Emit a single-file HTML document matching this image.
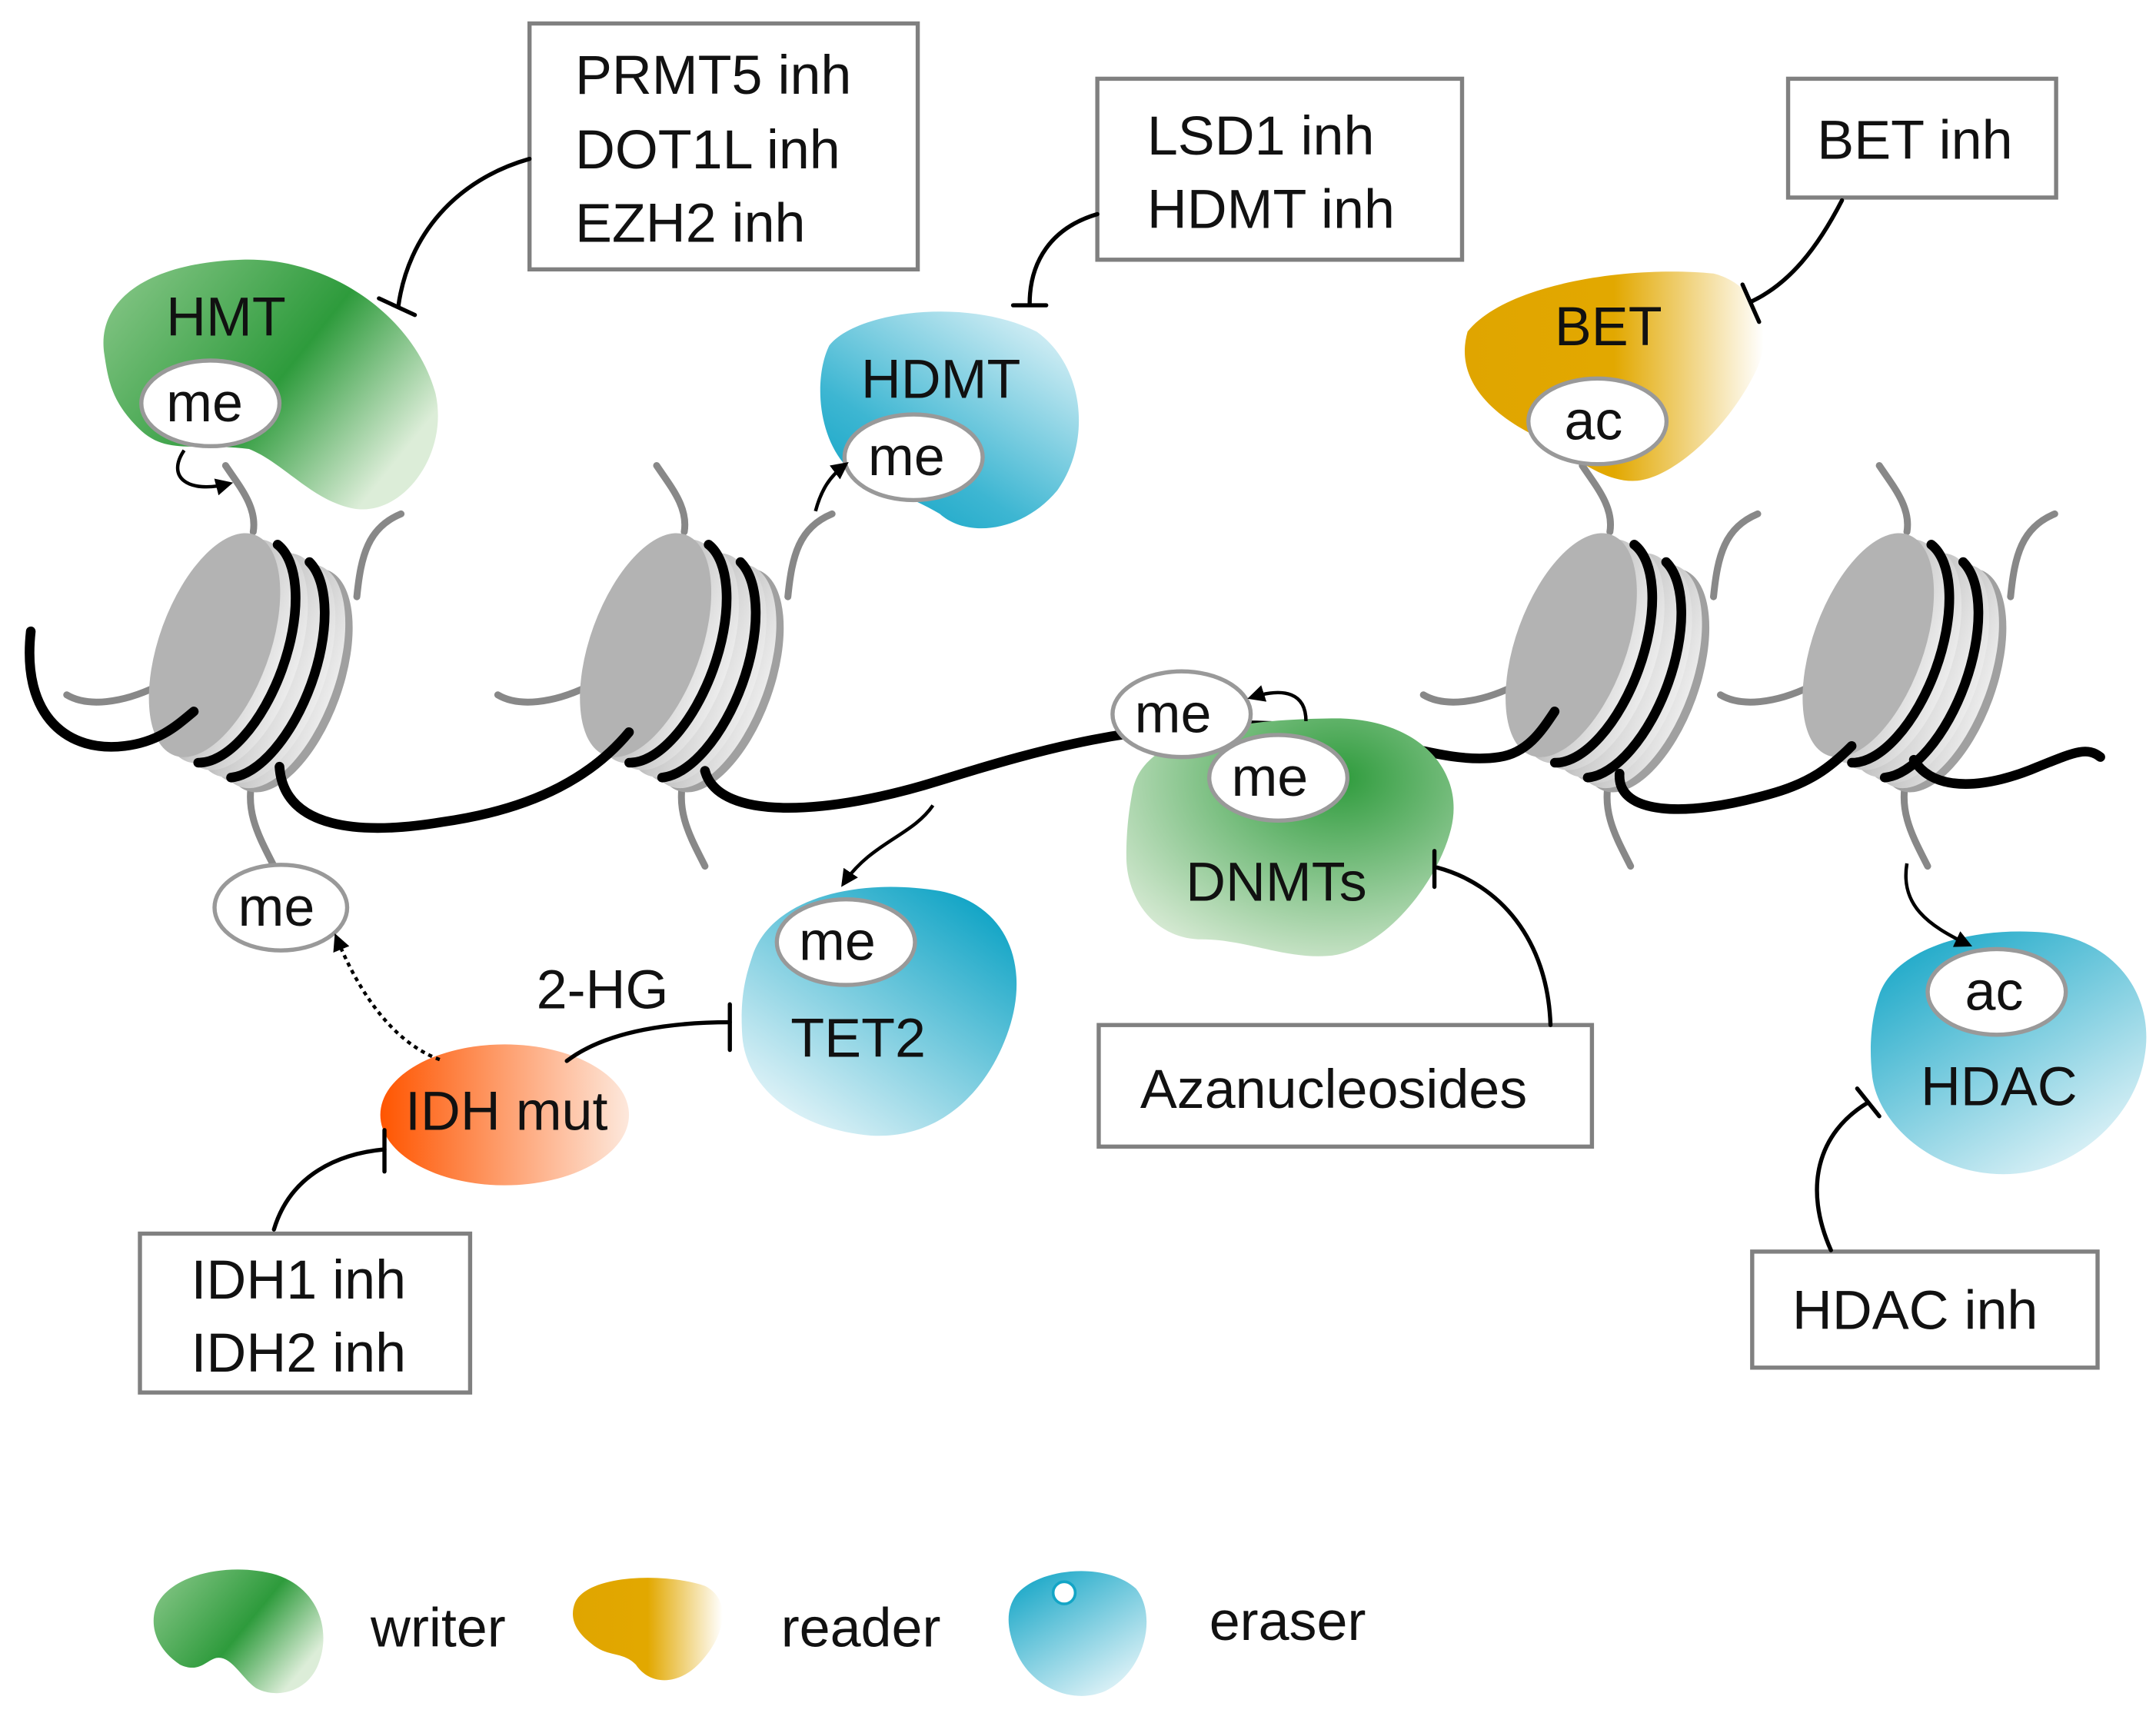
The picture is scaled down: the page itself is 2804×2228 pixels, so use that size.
<!DOCTYPE html>
<html><head><meta charset="utf-8"><style>
html,body{margin:0;padding:0;background:#fff;}
svg{display:block;}
text{font-family:"Liberation Sans",Arial,sans-serif;fill:#111;}
</style></head><body>
<svg width="2804" height="2228" viewBox="0 0 1560 1240" xmlns="http://www.w3.org/2000/svg">
<defs>
<linearGradient id="gw" x1="0" y1="0" x2="1" y2="0.6">
<stop offset="0" stop-color="#8cc98c"/><stop offset="0.6" stop-color="#2e9b3c"/><stop offset="1" stop-color="#dcedd8"/></linearGradient>
<radialGradient id="gw2" cx="0.65" cy="0.25" r="0.9">
<stop offset="0" stop-color="#2e9b3c"/><stop offset="1" stop-color="#e2efde"/></radialGradient>
<linearGradient id="gb" x1="0.2" y1="1" x2="1" y2="0">
<stop offset="0" stop-color="#13a5c6"/><stop offset="0.3" stop-color="#3db6d2"/><stop offset="1" stop-color="#eef8fb"/></linearGradient>
<linearGradient id="gb2" x1="0.9" y1="0.1" x2="0.2" y2="1">
<stop offset="0" stop-color="#13a5c6"/><stop offset="1" stop-color="#e6f5f9"/></linearGradient>
<linearGradient id="gb3" x1="0.1" y1="0" x2="0.8" y2="1">
<stop offset="0" stop-color="#13a5c6"/><stop offset="1" stop-color="#e6f5f9"/></linearGradient>
<linearGradient id="go" x1="0" y1="0" x2="1" y2="0">
<stop offset="0" stop-color="#e0a500"/><stop offset="0.5" stop-color="#e2a800"/><stop offset="1" stop-color="#ffffff"/></linearGradient>
<linearGradient id="gr" x1="0" y1="0" x2="1" y2="0">
<stop offset="0" stop-color="#ff5500"/><stop offset="1" stop-color="#fde8dc"/></linearGradient>
<linearGradient id="grim" x1="0" y1="0" x2="1" y2="0">
<stop offset="0" stop-color="#888"/><stop offset="0.5" stop-color="#c8c8c8"/><stop offset="1" stop-color="#ececec"/></linearGradient>
<marker id="ah" viewBox="0 0 10 10" refX="8" refY="5" markerWidth="5" markerHeight="5" orient="auto"><path d="M0,0 L10,5 L0,10 Z" fill="#000"/></marker>
<g id="nuc">
 <g transform="rotate(20)">
  <ellipse cx="58" cy="6" rx="40" ry="85" fill="#a0a0a0"/>
  <ellipse cx="52" cy="5" rx="40" ry="85" fill="url(#grim)"/>
  <ellipse cx="44" cy="4" rx="40" ry="85" fill="url(#grim)"/>
  <ellipse cx="34" cy="3" rx="40" ry="85" fill="url(#grim)"/>
  <ellipse cx="22" cy="2" rx="40" ry="85" fill="url(#grim)"/>
  <ellipse cx="10" cy="1" rx="40" ry="85" fill="url(#grim)"/>
  <ellipse cx="0" cy="0" rx="40" ry="85" fill="#b3b3b3"/>
  <path d="M18,-84 A40 85 0 0 1 18,84" fill="none" stroke="#000" stroke-width="7" stroke-linecap="round"/>
  <path d="M44,-80 A40 85 0 0 1 44,86" fill="none" stroke="#000" stroke-width="7" stroke-linecap="round"/>
 </g>
</g>
<g id="tails" fill="none" stroke="#888" stroke-width="5" stroke-linecap="round">
 <path d="M25,-82 C28,-100 15,-115 5,-130"/>
 <path d="M100,-35 C103,-65 108,-85 132,-95"/>
 <path d="M-45,30 C-70,42 -95,45 -110,36"/>
 <path d="M25,95 C18,120 30,140 40,160"/>
</g>
</defs>

<use href="#tails" transform="translate(158,467)"/>
<use href="#tails" transform="translate(470,467)"/>
<use href="#tails" transform="translate(1140,467)"/>
<use href="#tails" transform="translate(1355,467)"/>

<use href="#nuc" transform="translate(155,467)"/>
<use href="#nuc" transform="translate(467,467)"/>
<use href="#nuc" transform="translate(1137,467)"/>
<use href="#nuc" transform="translate(1352,467)"/>

<g fill="none" stroke="#000" stroke-width="7" stroke-linecap="round">
<path d="M22,457 C15,520 50,545 90,540 C115,537 128,525 140,515"/>
<path d="M202,555 C205,600 260,605 320,595 C390,585 430,560 455,530"/>
<path d="M510,558 C520,595 600,590 680,565 C760,540 820,525 900,525 C990,525 1040,555 1085,548 C1105,545 1115,530 1125,515"/>
<path d="M1172,560 C1170,590 1220,592 1280,575 C1310,567 1325,555 1340,540"/>
<path d="M1385,550 C1400,575 1440,570 1475,555 C1500,545 1510,540 1520,548"/>
</g>

<path d="M75,255 C70,215 110,190 175,188 C240,186 300,230 315,285 C325,330 290,375 255,368 C225,362 205,335 180,325 C140,320 120,330 100,310 C80,290 78,275 75,255 Z" fill="url(#gw)"/>
<path d="M600,250 C620,225 700,215 750,240 C785,265 790,320 765,355 C740,385 700,390 680,372 C660,360 630,350 610,335 C590,310 590,270 600,250 Z" fill="url(#gb)"/>
<path d="M1062,240 C1090,205 1180,192 1240,198 C1272,206 1285,240 1270,270 C1250,310 1212,345 1185,348 C1160,350 1140,330 1110,315 C1080,300 1052,275 1062,240 Z" fill="url(#go)"/>
<path d="M820,570 C830,530 900,520 970,520 C1030,522 1060,560 1050,600 C1040,640 1000,690 960,692 C930,694 900,680 870,680 C835,680 815,650 815,620 C815,600 817,585 820,570 Z" fill="url(#gw2)"/>
<path d="M545,690 C560,650 620,635 680,645 C730,655 745,700 730,745 C715,790 680,825 630,822 C580,818 540,790 537,750 C535,720 540,705 545,690 Z" fill="url(#gb2)"/>
<path d="M1360,720 C1370,690 1420,670 1480,675 C1530,680 1560,720 1552,765 C1545,810 1500,850 1450,850 C1400,850 1360,815 1355,780 C1352,755 1355,735 1360,720 Z" fill="url(#gb3)"/>
<ellipse cx="365" cy="807" rx="90" ry="51" fill="url(#gr)"/>

<g fill="#fff" stroke="#999" stroke-width="3">
<ellipse cx="152" cy="292" rx="50" ry="31"/>
<ellipse cx="661" cy="331" rx="50" ry="31"/>
<ellipse cx="1156" cy="305" rx="50" ry="31"/>
<ellipse cx="855" cy="517" rx="50" ry="31"/>
<ellipse cx="925" cy="563" rx="50" ry="31"/>
<ellipse cx="612" cy="682" rx="50" ry="31"/>
<ellipse cx="1445" cy="718" rx="50" ry="31"/>
<ellipse cx="203" cy="657" rx="48" ry="31"/>
</g>

<g fill="#fff" stroke="#808080" stroke-width="3">
<rect x="383" y="17" width="281" height="178"/>
<rect x="794" y="57" width="264" height="131"/>
<rect x="1294" y="57" width="194" height="86"/>
<rect x="795" y="742" width="357" height="88"/>
<rect x="101" y="893" width="239" height="115"/>
<rect x="1268" y="906" width="250" height="84"/>
</g>

<g fill="none" stroke="#000" stroke-width="3" stroke-linecap="round">
<path d="M383,115 C330,130 295,170 288,222"/><path d="M274,216 L300,228"/>
<path d="M794,155 C760,165 745,190 745,220"/><path d="M733,221 L757,221"/>
<path d="M1333,145 C1315,180 1295,205 1268,218"/><path d="M1261,206 L1273,233"/>
<path d="M1122,742 C1120,680 1085,640 1040,628"/><path d="M1038,616 L1038,642"/>
<path d="M198,890 C210,850 245,835 278,832"/><path d="M278,818 L278,848"/>
<path d="M1325,905 C1305,860 1315,820 1352,798"/><path d="M1344,788 L1360,808"/>
<path d="M410,768 C440,745 490,740 528,740"/><path d="M528,727 L528,760"/>
</g>

<g fill="none" stroke="#000" stroke-width="2.5" marker-end="url(#ah)">
<path d="M133,326 C120,345 135,358 166,350"/>
<path d="M590,370 C594,355 600,345 612,336"/>
<path d="M945,522 C945,502 930,497 905,505"/>
<path d="M675,583 C660,605 630,610 610,640"/>
<path d="M1380,625 C1375,655 1395,670 1425,684"/>
<path d="M318,767 C285,755 260,720 243,678" stroke-dasharray="3,3"/>
</g>

<g font-size="40">
<text x="416" y="68">PRMT5 inh</text>
<text x="416" y="122">DOT1L inh</text>
<text x="416" y="175">EZH2 inh</text>
<text x="830" y="112">LSD1 inh</text>
<text x="830" y="165">HDMT inh</text>
<text x="1315" y="115">BET inh</text>
<text x="825" y="802">Azanucleosides</text>
<text x="138" y="940">IDH1 inh</text>
<text x="138" y="993">IDH2 inh</text>
<text x="1297" y="962">HDAC inh</text>
<text x="120" y="243">HMT</text>
<text x="623" y="288">HDMT</text>
<text x="1125" y="250">BET</text>
<text x="858" y="652">DNMTs</text>
<text x="572" y="765">TET2</text>
<text x="1390" y="800">HDAC</text>
<text x="293" y="818">IDH mut</text>
<text x="388" y="730">2-HG</text>
<text x="120" y="305">me</text>
<text x="628" y="344">me</text>
<text x="1132" y="318">ac</text>
<text x="821" y="530">me</text>
<text x="891" y="576">me</text>
<text x="578" y="695">me</text>
<text x="1422" y="731">ac</text>
<text x="172" y="670">me</text>
<text x="268" y="1192">writer</text>
<text x="565" y="1192">reader</text>
<text x="875" y="1187">eraser</text>
</g>

<path d="M112,1165 C120,1140 165,1130 200,1140 C230,1150 240,1180 230,1205 C222,1225 200,1230 185,1222 C175,1215 168,1200 158,1200 C150,1200 145,1212 130,1205 C115,1195 108,1180 112,1165 Z" fill="url(#gw)"/>
<path d="M416,1160 C425,1140 480,1138 510,1148 C530,1158 525,1185 505,1205 C490,1220 470,1220 460,1205 C450,1195 440,1200 428,1190 C415,1180 412,1170 416,1160 Z" fill="url(#go)"/>
<path d="M735,1155 C750,1135 800,1130 822,1150 C838,1170 828,1210 800,1224 C775,1235 745,1220 735,1195 C728,1178 728,1165 735,1155 Z" fill="url(#gb3)"/>
<circle cx="770" cy="1153" r="8" fill="#fff" stroke="#13a5c6" stroke-width="2"/>
</svg>
</body></html>
